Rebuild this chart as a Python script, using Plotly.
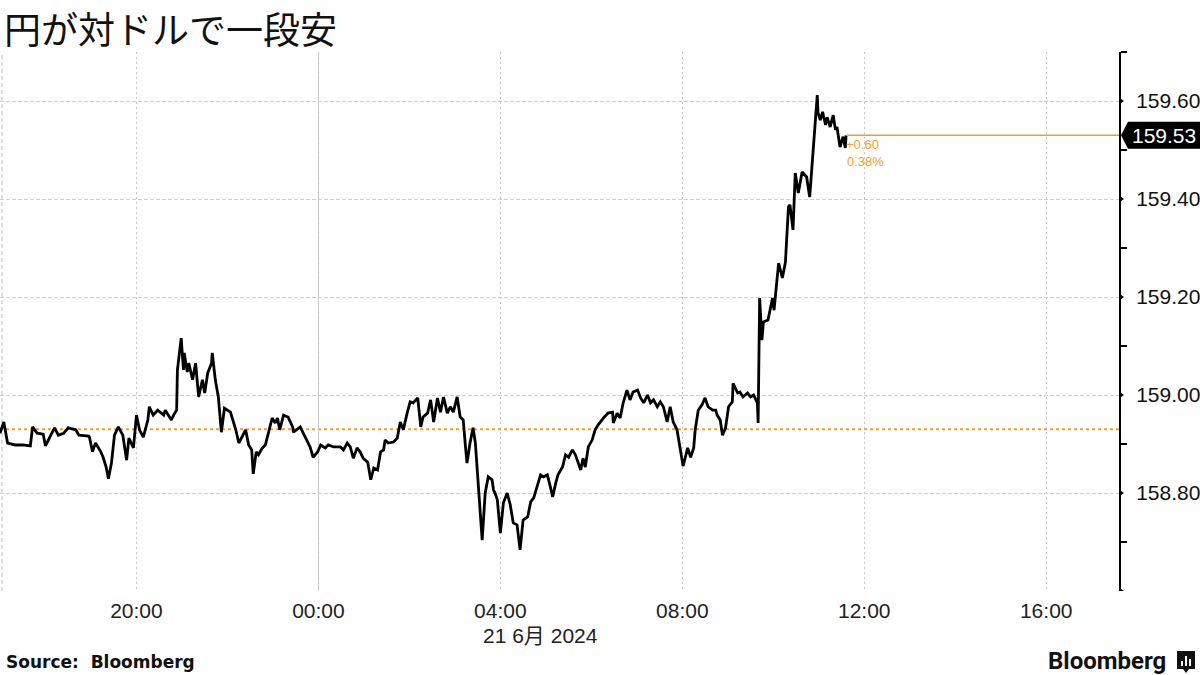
import pandas as pd
import plotly.graph_objects as go

# ---------------- data ----------------
start = pd.Timestamp("2024-06-20 17:00")
# minutes elapsed since 2024-06-20 17:00 (Tokyo time)
minutes = [0, 5, 10, 20, 30, 40, 43, 49, 57, 60, 67, 72, 77, 84, 90, 100, 104, 117, 118, 122,
           126, 133, 136, 140, 143, 147, 151, 156, 162, 167, 170, 176, 180, 184, 189, 195, 197, 202, 208, 216,
           218, 226, 229, 233, 234, 239, 242, 243, 247, 249, 254, 258, 262, 267, 270, 274, 279, 280, 284, 288,
           292, 296, 304, 311, 315, 324, 328, 332, 334, 338, 341, 346, 350, 354, 359, 363, 366, 369, 374, 380,
           386, 387, 396, 400, 406, 409, 413, 419, 423, 429, 433, 440, 449, 453, 458, 462, 466, 471, 475, 479,
           485, 489, 493, 498, 502, 506, 508, 512, 519, 524, 528, 532, 537, 541, 545, 551, 555, 558, 564, 568,
           572, 577, 581, 585, 590, 594, 598, 603, 607, 611, 614, 616, 620, 624, 627, 630, 634, 636, 640, 644,
           649, 651, 653, 656, 660, 664, 669, 673, 677, 682, 686, 690, 696, 700, 704, 713, 717, 722, 726, 729,
           733, 736, 742, 746, 750, 755, 759, 763, 766, 769, 772, 776, 781, 785, 789, 796, 802, 808, 809, 814,
           818, 822, 827, 831, 835, 841, 845, 849, 854, 858, 862, 867, 871, 875, 880, 884, 888, 893, 897, 901,
           904, 907, 911, 915, 917, 921, 926, 930, 934, 940, 944, 946, 950, 953, 957, 961, 966, 967, 973, 976,
           980, 986, 990, 994, 999, 1000, 1002, 1005, 1007, 1013, 1019, 1021, 1027, 1032, 1036, 1040, 1042, 1046, 1049, 1053,
           1058, 1064, 1068, 1073, 1078, 1079, 1082, 1085, 1089, 1091, 1095, 1099, 1102, 1104, 1108, 1112, 1115, 1116]
prices = [158.922, 158.945, 158.902, 158.898, 158.898, 158.896, 158.935, 158.922, 158.920, 158.896,
          158.918, 158.933, 158.918, 158.922, 158.933, 158.929, 158.918, 158.916, 158.914, 158.884,
          158.902, 158.884, 158.873, 158.853, 158.829, 158.861, 158.918, 158.935, 158.918, 158.867,
          158.912, 158.892, 158.959, 158.929, 158.914, 158.949, 158.976, 158.959, 158.969, 158.959,
          158.969, 158.949, 158.959, 158.969, 159.051, 159.116, 159.051, 159.086, 159.047, 159.065,
          159.031, 159.065, 158.996, 159.031, 159.004, 159.045, 159.065, 159.086, 159.031, 158.996,
          158.924, 158.973, 158.965, 158.929, 158.902, 158.929, 158.898, 158.888, 158.839, 158.884,
          158.878, 158.892, 158.898, 158.924, 158.953, 158.943, 158.953, 158.929, 158.959, 158.955,
          158.935, 158.924, 158.935, 158.922, 158.904, 158.894, 158.873, 158.884, 158.898, 158.892,
          158.898, 158.894, 158.894, 158.888, 158.902, 158.894, 158.871, 158.892, 158.884, 158.871,
          158.863, 158.827, 158.851, 158.847, 158.884, 158.888, 158.908, 158.902, 158.904, 158.912,
          158.945, 158.929, 158.963, 158.986, 158.984, 158.994, 158.935, 158.955, 158.963, 158.990,
          158.945, 158.994, 158.965, 158.996, 158.963, 158.976, 158.965, 158.996, 158.955, 158.949,
          158.894, 158.861, 158.902, 158.933, 158.902, 158.833, 158.759, 158.704, 158.800, 158.833,
          158.827, 158.806, 158.800, 158.786, 158.718, 158.780, 158.800, 158.776, 158.739, 158.735,
          158.684, 158.745, 158.751, 158.782, 158.790, 158.837, 158.833, 158.837, 158.812, 158.792,
          158.820, 158.837, 158.853, 158.878, 158.873, 158.888, 158.878, 158.861, 158.847, 158.871,
          158.853, 158.894, 158.908, 158.929, 158.939, 158.953, 158.963, 158.965, 158.943, 158.963,
          158.953, 158.984, 159.010, 158.990, 159.006, 159.010, 158.994, 158.984, 159.000, 158.984,
          158.990, 158.976, 158.986, 158.976, 158.945, 158.976, 158.945, 158.929, 158.894, 158.855,
          158.873, 158.892, 158.873, 158.892, 158.929, 158.969, 158.980, 158.994, 158.976, 158.969,
          158.969, 158.959, 158.949, 158.918, 158.933, 158.976, 158.986, 159.024, 159.004, 159.006,
          158.996, 159.004, 158.996, 159.000, 158.984, 158.943, 159.198, 159.112, 159.149, 159.153,
          159.198, 159.173, 159.269, 159.239, 159.271, 159.384, 159.388, 159.337, 159.453, 159.412,
          159.455, 159.445, 159.404, 159.506, 159.612, 159.576, 159.561, 159.578, 159.551, 159.567,
          159.547, 159.571, 159.541, 159.547, 159.506, 159.527, 159.504, 159.530]

prev_close = 158.93
change_text = "+0.60"
change_pct_text = "0.38%"
y_tickvals = [158.6, 158.8, 159.0, 159.2, 159.4, 159.6]
y_ticktext = ["", "158.80", "159.00", "159.20", "159.40", "159.60"]
y_minor = [158.7, 158.9, 159.1, 159.3, 159.5, 159.7]
y_range = [158.6, 159.7]
x_range = ["2024-06-20 17:00", "2024-06-21 17:36"]
x_tick0 = "2024-06-20 20:00"
day_boundary = "2024-06-21 00:00"
title_text = "円が対ドルで一段安"
date_text = "21 6月 2024"
source_text = "<b>Source:  Bloomberg</b>"
brand_text = "<b>Bloomberg</b>"

# ---------------- layout constants ----------------
W, H = 1200, 675
ML, MR, MT, MB = 0, 81, 52, 84
PW, PH = W - ML - MR, H - MT - MB
ORANGE = "#EFA12C"
GOLD = "#D9A537"
YUNIT = (y_range[1] - y_range[0]) / PH  # data units per pixel


def px_x(p):
    return (p - ML) / PW


def px_y(p):
    return (H - MB - p) / PH


times = [start + pd.Timedelta(minutes=m) for m in minutes]
last_t, last_p = times[-1], prices[-1]

fig = go.Figure()

fig.add_trace(go.Scatter(x=times, y=prices, mode="lines",
                         line=dict(color="#000000", width=2.8),
                         hoverinfo="skip", showlegend=False))
fig.add_trace(go.Scatter(x=[last_t, pd.Timestamp(x_range[1])], y=[last_p, last_p], mode="lines",
                         line=dict(color=GOLD, width=1.5), hoverinfo="skip",
                         showlegend=False, cliponaxis=False))

shapes = []
shapes.append(dict(type="line", xref="paper", yref="y", x0=0, x1=1, y0=prev_close, y1=prev_close,
                   line=dict(color=ORANGE, width=2, dash="dot"), layer="below"))
shapes.append(dict(type="line", xref="x", yref="paper", x0=day_boundary, x1=day_boundary, y0=0, y1=1,
                   line=dict(color="#cccccc", width=1), layer="below"))
shapes.append(dict(type="line", xref="paper", yref="paper", x0=px_x(2), x1=px_x(2), y0=0, y1=1,
                   line=dict(color="#c0c0c0", width=1, dash="4px,3px"), layer="below"))
aw, ah = 5 / PW, 3.5 * YUNIT
for v in y_tickvals:
    shapes.append(dict(type="path", xref="paper", yref="y",
                       path=f"M 1,{v + ah} L {1 + aw},{v} L 1,{v - ah} Z",
                       fillcolor="#000000", line=dict(width=0)))
bx0 = px_x(1121)
bx1 = px_x(1128)
bx2 = px_x(1200)
bh = 13.5 * YUNIT
shapes.append(dict(type="path", xref="paper", yref="y",
                   path=f"M {bx0},{last_p} L {bx1},{last_p + bh} L {bx2},{last_p + bh} "
                        f"L {bx2},{last_p - bh} L {bx1},{last_p - bh} Z",
                   fillcolor="#000000", line=dict(width=0)))
shapes.append(dict(type="rect", xref="paper", yref="paper", x0=px_x(1177), x1=px_x(1195),
                   y0=px_y(669), y1=px_y(651), fillcolor="#111111", line=dict(width=0)))
for bxp, top in [(1181, 661), (1185, 656), (1189, 659)]:
    shapes.append(dict(type="rect", xref="paper", yref="paper", x0=px_x(bxp), x1=px_x(bxp + 2),
                       y0=px_y(666), y1=px_y(top), fillcolor="#ffffff", line=dict(width=0)))
shapes.append(dict(type="path", xref="paper", yref="paper",
                   path=f"M {px_x(1183)},{px_y(669)} L {px_x(1186)},{px_y(673)} L {px_x(1189)},{px_y(669)} Z",
                   fillcolor="#111111", line=dict(width=0)))

annotations = [
    dict(text=title_text, xref="paper", yref="paper", x=px_x(2), y=px_y(28), xanchor="left",
         yanchor="middle", showarrow=False, font=dict(family="Noto Sans CJK JP", size=37, color="#111111")),
    dict(text=date_text, xref="paper", yref="paper", x=px_x(481), y=px_y(635), xanchor="left",
         yanchor="middle", showarrow=False,
         font=dict(family="Liberation Sans, Noto Sans CJK JP", size=21, color="#222222")),
    dict(text=source_text, xref="paper", yref="paper", x=px_x(4), y=px_y(662), xanchor="left",
         yanchor="middle", showarrow=False, font=dict(family="DejaVu Sans", size=17, color="#111111")),
    dict(text=brand_text, xref="paper", yref="paper", x=px_x(1168), y=px_y(661), xanchor="right",
         yanchor="middle", showarrow=False, font=dict(family="Roboto", size=24, color="#111111")),
    dict(text=f"{last_p:.2f}", xref="paper", yref="y", x=px_x(1130), y=last_p, xanchor="left",
         yanchor="middle", showarrow=False, font=dict(family="Liberation Sans", size=21, color="#ffffff")),
    dict(text=change_text, xref="x", yref="y", x=last_t, y=last_p - 9 * YUNIT, xanchor="left",
         yanchor="middle", showarrow=False, xshift=-2,
         font=dict(family="Liberation Sans", size=13, color=ORANGE)),
    dict(text=change_pct_text, xref="x", yref="y", x=last_t, y=last_p - 26 * YUNIT, xanchor="left",
         yanchor="middle", showarrow=False, xshift=-1,
         font=dict(family="Liberation Sans", size=13, color=ORANGE)),
]

fig.update_layout(
    width=W, height=H,
    margin=dict(l=ML, r=MR, t=MT, b=MB, pad=0),
    paper_bgcolor="#ffffff", plot_bgcolor="#ffffff",
    showlegend=False,
    shapes=shapes, annotations=annotations,
    xaxis=dict(type="date", range=x_range, tick0=x_tick0, dtick=4 * 3600 * 1000,
               tickformat="%H:%M", showgrid=True, gridcolor="#c4c4c4", griddash="2px,3px",
               gridwidth=1, showline=False, zeroline=False, ticks="",
               ticklabelstandoff=5,
               tickfont=dict(family="Liberation Sans", size=21, color="#222222")),
    yaxis=dict(side="right", range=y_range, tickvals=y_tickvals, ticktext=y_ticktext,
               showgrid=True, gridcolor="#cfcfcf", griddash="4px,2px", gridwidth=1,
               showline=True, linecolor="#000000", linewidth=2, zeroline=False,
               ticks="outside", ticklen=7, tickcolor="rgba(0,0,0,0)", ticklabelstandoff=4,
               minor=dict(tickvals=y_minor, ticks="outside",
                          ticklen=6, tickwidth=1.5, tickcolor="#000000", showgrid=False),
               tickfont=dict(family="Liberation Sans", size=21, color="#111111")),
)

fig.write_html("out.html", config={"displayModeBar": False},
               post_script="document.body.style.margin='0';document.body.style.padding='0';"
                           "document.documentElement.style.overflow='hidden';")
